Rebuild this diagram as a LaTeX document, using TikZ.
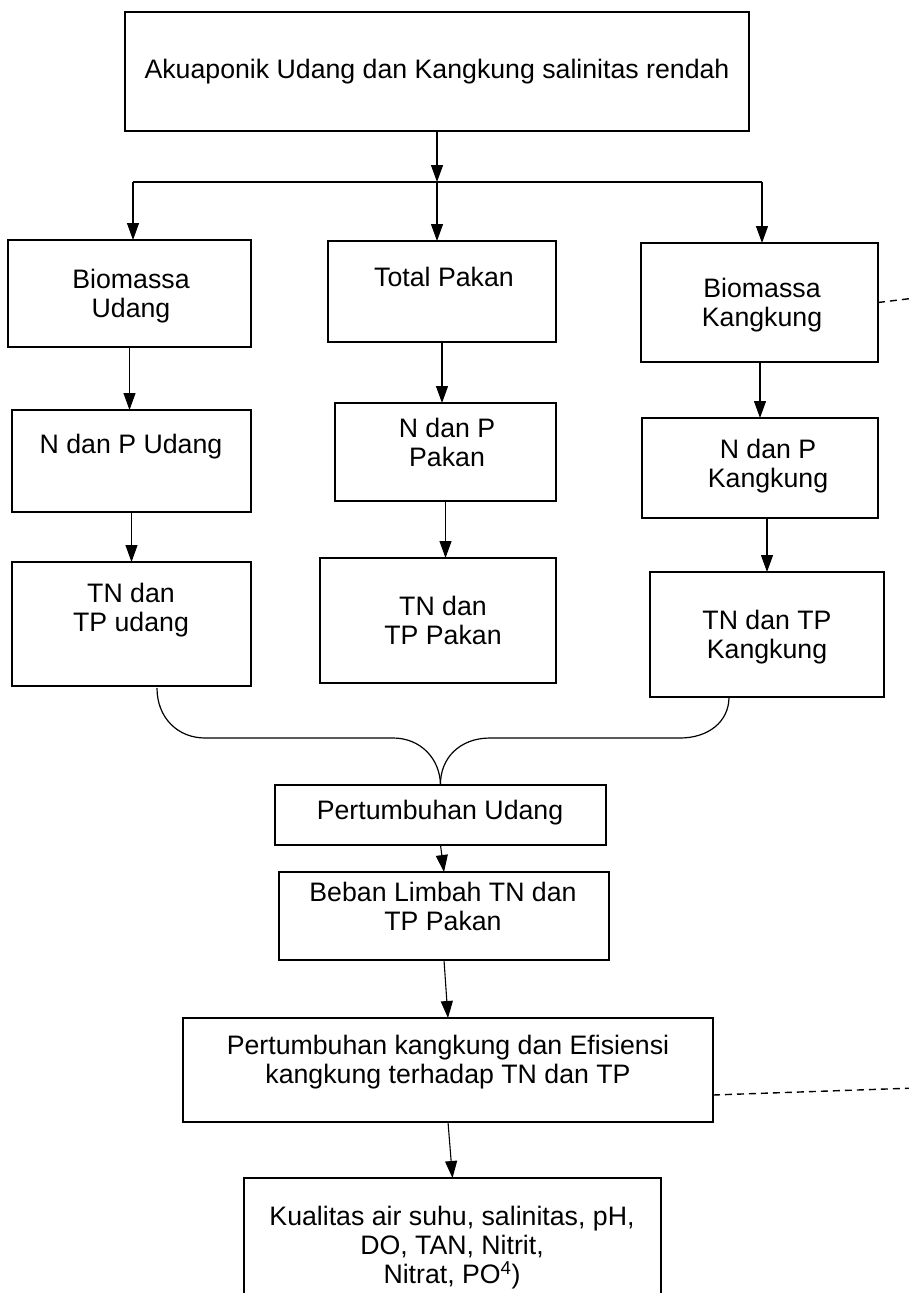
\documentclass[tikz,border=0pt]{standalone}
\usepackage{fontspec}
\setmainfont{Liberation Sans}
\usetikzlibrary{arrows.meta}
\begin{document}
\begin{tikzpicture}[x=1pt,y=-1pt,
  box/.style={draw=black, line width=1.1pt, inner sep=0pt, outer sep=0pt},
  txt/.style={align=center, inner sep=0pt, font=\fontsize{26.7}{29}\selectfont},
  arr/.style={line width=1.1pt, -{Triangle[length=17pt,width=12pt]}},
  barline/.style={line width=2.4pt},
  dashline/.style={line width=1.4pt, dash pattern=on 7pt off 5pt},
  curveline/.style={line width=1.2pt}]
\useasboundingbox (0,0) rectangle (909,1293);
\fill[white] (0,0) rectangle (909,1293);
\clip (0,0) rectangle (909,1293);

% boxes
\node[box, minimum width=624pt, minimum height=119pt] (top) at (437,71.5) {};
\node[box, minimum width=243pt, minimum height=107pt] (b1) at (129.5,293.5) {};
\node[box, minimum width=228pt, minimum height=101pt] (b2) at (442,291.5) {};
\node[box, minimum width=237pt, minimum height=119pt] (b3) at (759.5,302.5) {};
\node[box, minimum width=239pt, minimum height=102pt] (b4) at (131.5,461) {};
\node[box, minimum width=221pt, minimum height=98pt] (b5) at (445.5,452) {};
\node[box, minimum width=236pt, minimum height=100pt] (b6) at (760,468) {};
\node[box, minimum width=239pt, minimum height=124pt] (b7) at (131.5,624) {};
\node[box, minimum width=236pt, minimum height=125pt] (b8) at (438,620.5) {};
\node[box, minimum width=234pt, minimum height=125pt] (b9) at (767,634.5) {};
\node[box, minimum width=331pt, minimum height=60pt] (b10) at (440.5,815) {};
\node[box, minimum width=330pt, minimum height=88pt] (b11) at (444,916) {};
\node[box, minimum width=530pt, minimum height=104pt] (b12) at (448,1070) {};
\node[box, minimum width=417pt, minimum height=142pt] (b13) at (452.5,1249) {};

% texts
\node[txt] (t0) at (437,72) {Akuaponik Udang dan Kangkung salinitas rendah};
\node[txt] (t1) at (131,296) {Biomassa\\Udang};
\node[txt] (t2) at (444,277) {Total Pakan};
\node[txt] (t3) at (762,305) {Biomassa\\Kangkung};
\node[txt] (t4) at (131,447) {N dan P Udang};
\node[txt] (t5) at (447,442) {N dan P\\Pakan};
\node[txt] (t6) at (768,466) {N dan P\\Kangkung};
\node[txt] (t7) at (131,610) {TN dan\\TP udang};
\node[txt] (t8) at (443,620) {TN dan\\TP Pakan};
\node[txt] (t9) at (767,637) {TN dan TP\\Kangkung};
\node[txt] (t10) at (440,813) {Pertumbuhan Udang};
\node[txt] (t11) at (443,906) {Beban Limbah TN dan\\TP Pakan};
\node[txt] (t12) at (448,1062) {Pertumbuhan kangkung dan Efisiensi\\kangkung terhadap TN dan TP};
\node[txt] (t13) at (452,1248) {Kualitas air suhu, salinitas, pH,\\DO, TAN, Nitrit,\\Nitrat, PO\textsuperscript{4})};

% junctions
\coordinate (jL) at (133,182);
\coordinate (jM) at (437,182);
\coordinate (jR) at (762,182);
\coordinate (cL) at (157,688);
\coordinate (cR) at (729,697);
\coordinate (dA) at (915,298);
\coordinate (dB) at (915,1088);

% connectors
\draw[barline] (jL) -- (jR);
\draw[arr] (top.south) -- (jM);
\draw[arr] (jL) -- (jL |- b1.north);
\draw[arr] (jM) -- (jM |- b2.north);
\draw[arr] (jR) -- (jR |- b3.north);
\draw[arr] (b1.south) -- (b1.south |- b4.north);
\draw[arr] (b2.south) -- (b2.south |- b5.north);
\draw[arr] (b6.north |- b3.south) -- (b6.north);
\draw[arr] (b4.south) -- (b4.south |- b7.north);
\draw[arr] (b5.south) -- (b5.south |- b8.north);
\draw[arr] (b9.north |- b6.south) -- (b9.north);
\draw[arr] (b10.south) -- (b11.north);
\draw[arr] (b11.south) -- (b12.north);
\draw[arr] (b12.south) -- (b13.north);

\draw[curveline] (cL) .. controls (157,718) and (178,738) .. (205,738) -- (393,738)
  .. controls (420,738) and (440,758) .. (b10.north);
\draw[curveline] (cR) .. controls (729,722) and (708,738) .. (680,738) -- (490,738)
  .. controls (460,738) and (440,758) .. (b10.north);

\draw[dashline] (b3.east) -- (dA);
\draw[dashline] ([yshift=-25pt]b12.east) -- (dB);
\end{tikzpicture}
\end{document}
